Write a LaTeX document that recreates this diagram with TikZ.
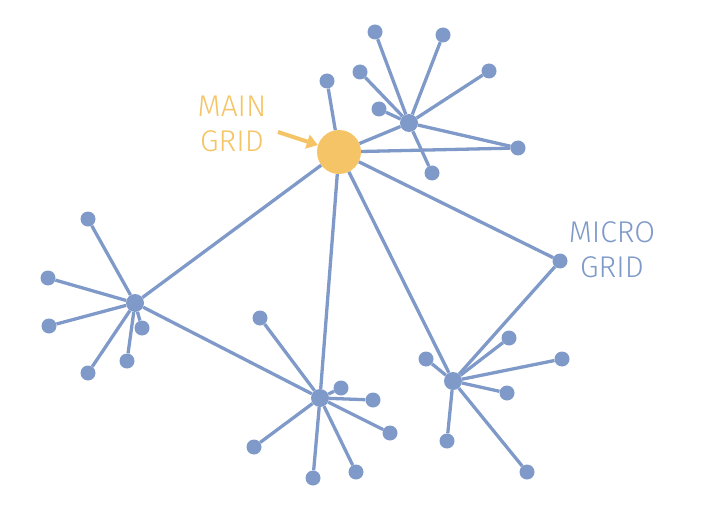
\documentclass[tikz,border=0pt]{standalone}
\usepackage{fontspec}
\setmainfont{Fira Sans Light}
\usetikzlibrary{arrows.meta}
\definecolor{gridblue}{HTML}{7F9AC9}
\definecolor{gridorange}{HTML}{F5C466}
\tikzset{
  leaf/.style={circle,fill=gridblue,inner sep=0pt,minimum size=15pt},
  hub/.style={circle,fill=gridblue,inner sep=0pt,minimum size=18pt},
  link/.style={gridblue,line width=3.3pt},
  label text/.style={align=center,font=\fontsize{30}{35}\selectfont}
}
\begin{document}
\begin{tikzpicture}[x=1pt,y=-1pt]
\useasboundingbox (0,0) rectangle (711,505);
\node[circle,fill=gridorange,inner sep=0pt,minimum size=44pt] (main) at (339,152) {};
\node[hub] (t) at (409,123) {};
\node[hub] (l) at (135,303) {};
\node[hub] (b) at (320,398) {};
\node[hub] (r) at (453,381) {};
\node[leaf] (micro) at (560,261) {};
\node[leaf] (m) at (327,81) {};
\foreach \x/\y [count=\i] in {375/32,443/35,489/71,360/72,379/109,518/148,432/173}
{\node[leaf] (t\i) at (\x,\y) {};
\draw[link] (t) -- (t\i);}
\foreach \x/\y [count=\i] in {88/219,48/278,49/326,88/373,127/361,142/328}
{\node[leaf] (l\i) at (\x,\y) {};
\draw[link] (l) -- (l\i);}
\foreach \x/\y [count=\i] in {260/318,341/388,373/400,390/433,356/472,313/478,254/447}
{\node[leaf] (b\i) at (\x,\y) {};
\draw[link] (b) -- (b\i);}
\foreach \x/\y [count=\i] in {426/359,509/338,562/359,507/393,447/441,527/472}
{\node[leaf] (r\i) at (\x,\y) {};
\draw[link] (r) -- (r\i);}
%%%%
\foreach \n in {m,t,t6,l,b,r,micro}
\draw[link] (main) -- (\n);
\draw[link] (l) -- (b);
\draw[link] (micro) -- (r);
%%%%
\node[label text,text=gridorange] (maintext) at (232,124) {MAIN\\GRID};
\node[label text,text=gridblue] (microtext) at (612,250) {MICRO\\GRID};
\coordinate (arrowtail) at (278,132);
\draw[gridorange,line width=4pt,-{Triangle[width=14pt,length=11pt]}] (arrowtail) -- (main);
\end{tikzpicture}
\end{document}
